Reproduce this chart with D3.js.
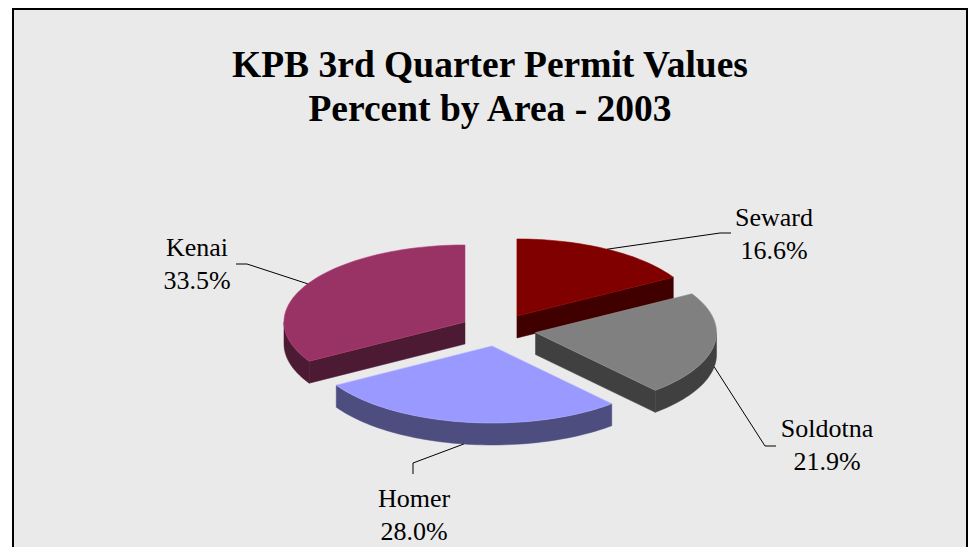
<!DOCTYPE html>
<html>
<head>
<meta charset="utf-8">
<script src="https://cdn.jsdelivr.net/npm/d3@7"></script>
<style>
  body { margin: 0; background: #fff; }
  text { font-family: "Liberation Serif", "Times New Roman", serif; fill: #000; }
</style>
</head>
<body>
<script>
// chart data
var titleLines = ["KPB 3rd Quarter Permit Values", "Percent by Area - 2003"];
var areas = ["Seward", "Soldotna", "Homer", "Kenai"];
var percents = [16.6, 21.9, 28.0, 33.5];
var topColors = ["#800000", "#808080", "#9999FF", "#993366"];
var sideColors = ["#400000", "#404040", "#4D4D80", "#4D1A33"];

// layout of the pseudo 3d pie
var CX = 498, CY = 330, RX = 181, RY = 77, DEPTH = 22, EXPLODE = 0.21;

// label text position + leader elbow + stub end (layout only)
var labelLayout = [
  {tx: 774, ty: 226, ex: 720, ey: 233, sx: 731, sy: 233},
  {tx: 827, ty: 437, ex: 765, ey: 446, sx: 776, sy: 446},
  {tx: 414, ty: 507, ex: 413, ey: 463, sx: 413, sy: 474},
  {tx: 197, ty: 256, ex: 247, ey: 264, sx: 236, sy: 264}
];

var svg = d3.select("body").append("svg")
  .attr("width", 968).attr("height", 547);

svg.append("rect")
  .attr("x", 13).attr("y", 9)
  .attr("width", 954).attr("height", 600)
  .attr("fill", "#EAEAEA")
  .attr("stroke", "#000")
  .attr("stroke-width", 2);

svg.selectAll("text.title")
  .data(titleLines)
  .enter()
  .append("text")
  .attr("class", "title")
  .attr("x", 490)
  .attr("y", function(d, i) { return 77 + i * 44; })
  .attr("text-anchor", "middle")
  .attr("font-size", "37.5px")
  .attr("font-weight", "bold")
  .text(function(d) { return d; });

var pie = d3.pie().sort(null).value(function(d) { return d; });
var slices = pie(percents);

function rim(cx, cy, a, dy) {
  return [cx + RX * Math.sin(a), cy - RY * Math.cos(a) + (dy || 0)];
}
function rimPts(cx, cy, a0, a1, dy) {
  var n = Math.max(2, Math.ceil((a1 - a0) / 0.03));
  return d3.range(n + 1).map(function(k) { return rim(cx, cy, a0 + (a1 - a0) * k / n, dy); });
}
var line = d3.line();

slices.forEach(function(s, i) {
  var mid = (s.startAngle + s.endAngle) / 2;
  s.i = i;
  s.mid = mid;
  s.cx = CX + EXPLODE * RX * Math.sin(mid);
  s.cy = CY - EXPLODE * RY * Math.cos(mid);
});

// back to front
var order = slices.slice().sort(function(a, b) { return a.cy - b.cy; });

order.forEach(function(s) {
  var g = svg.append("g");
  var a0 = s.startAngle, a1 = s.endAngle;
  var side = sideColors[s.i];

  // radial wall at start angle
  if (Math.cos(a0 - Math.PI / 2) < -0.001) {
    var p = rim(s.cx, s.cy, a0);
    g.append("path")
      .attr("d", line([[s.cx, s.cy], p, [p[0], p[1] + DEPTH], [s.cx, s.cy + DEPTH]]) + "Z")
      .attr("fill", side).attr("stroke", side).attr("stroke-width", 0.5);
  }
  // radial wall at end angle
  if (Math.cos(a1 + Math.PI / 2) < -0.001) {
    var q = rim(s.cx, s.cy, a1);
    g.append("path")
      .attr("d", line([[s.cx, s.cy], q, [q[0], q[1] + DEPTH], [s.cx, s.cy + DEPTH]]) + "Z")
      .attr("fill", side).attr("stroke", side).attr("stroke-width", 0.5);
  }
  // curved outer wall (front half only)
  var f0 = Math.max(a0, Math.PI / 2), f1 = Math.min(a1, 3 * Math.PI / 2);
  if (f1 > f0) {
    var pts = rimPts(s.cx, s.cy, f0, f1, 0)
      .concat(rimPts(s.cx, s.cy, f0, f1, DEPTH).reverse());
    g.append("path")
      .attr("d", line(pts) + "Z")
      .attr("fill", side).attr("stroke", side).attr("stroke-width", 0.5);
  }
  // top face
  var topPts = [[s.cx, s.cy]].concat(rimPts(s.cx, s.cy, a0, a1, 0));
  g.append("path")
    .attr("d", line(topPts) + "Z")
    .attr("fill", topColors[s.i])
    .attr("stroke", d3.color(topColors[s.i]).brighter(0.4))
    .attr("stroke-width", 0.6);
});

// leader lines and labels
slices.forEach(function(s, i) {
  var L = labelLayout[i];
  var front = Math.cos(s.mid) < 0;
  var a = rim(s.cx, s.cy, s.mid, front ? DEPTH : 0);
  svg.append("path")
    .attr("d", line([a, [L.ex, L.ey], [L.sx, L.sy]]))
    .attr("fill", "none")
    .attr("stroke", "#000")
    .attr("stroke-width", 1);

  var t = svg.append("text")
    .attr("x", L.tx).attr("y", L.ty)
    .attr("text-anchor", "middle")
    .attr("font-size", "26px");
  t.append("tspan").attr("x", L.tx).text(areas[i]);
  t.append("tspan").attr("x", L.tx).attr("dy", 33).text(d3.format(".1f")(percents[i]) + "%");
});
</script>
</body>
</html>
